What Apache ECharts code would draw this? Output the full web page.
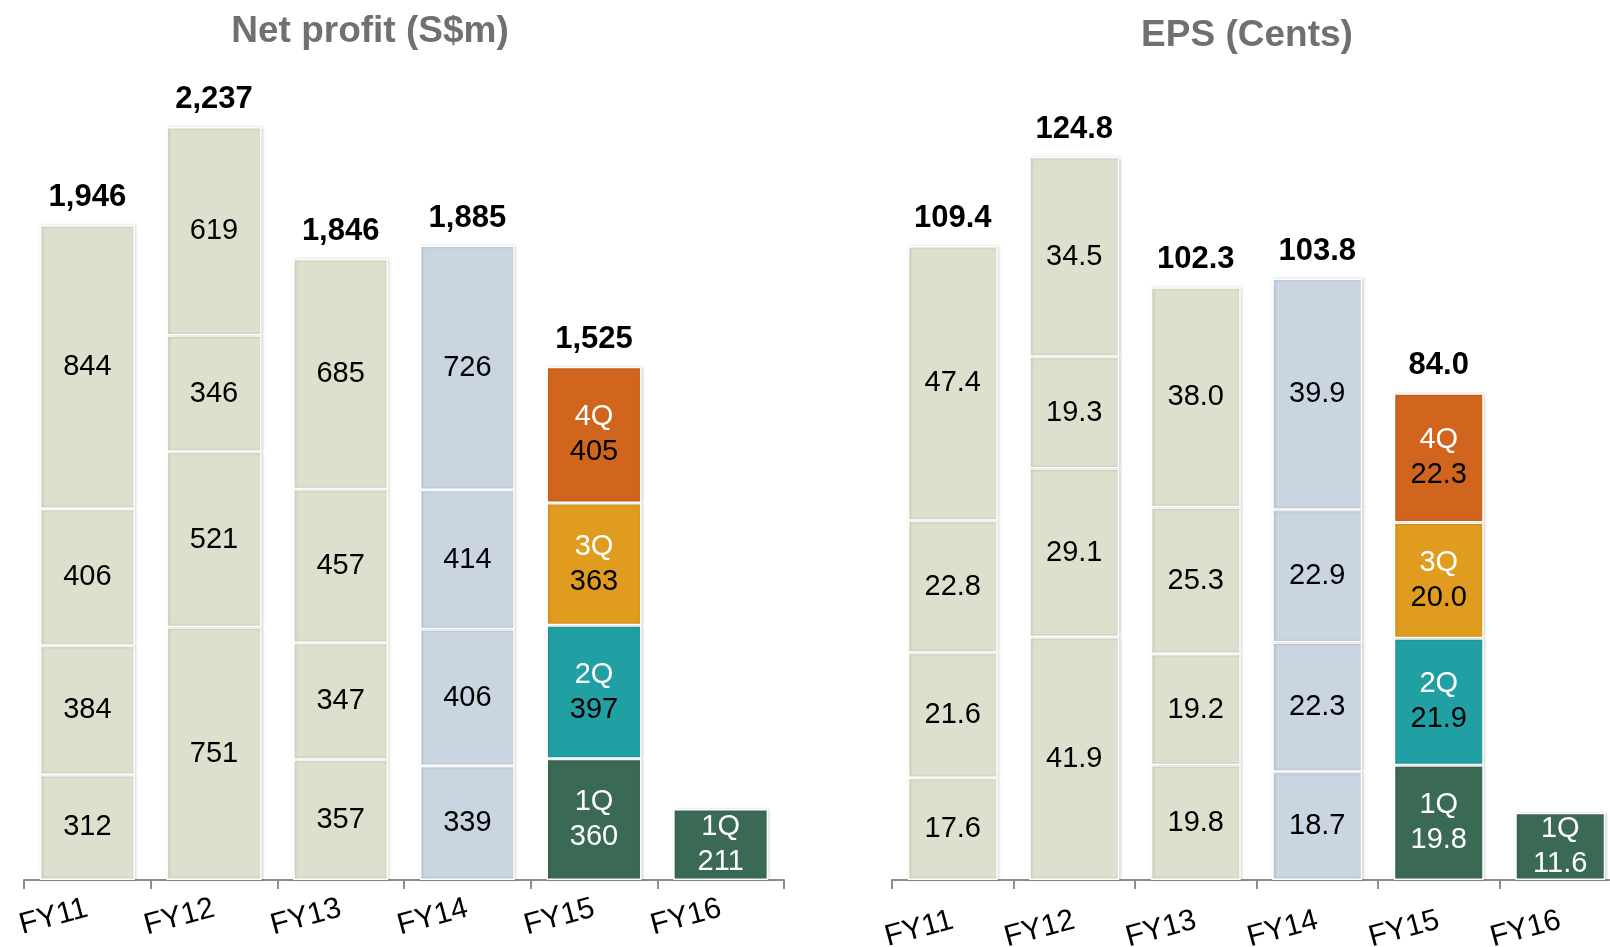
<!DOCTYPE html>
<html><head><meta charset="utf-8">
<script src="https://cdn.jsdelivr.net/npm/echarts@6/dist/echarts.min.js"></script>
<style>html,body{margin:0;padding:0;background:#fff}#c{width:1610px;height:947px}</style>
</head><body><div id="c"></div>
<script>
const years = ['FY11','FY12','FY13','FY14','FY15','FY16'];
// Net profit (S$m) segments, bottom to top
const np1 = [312, 751, 357, 339, 360, 211];
const np2 = [384, 521, 347, 406, 397, null];
const np3 = [406, 346, 457, 414, 363, null];
const np4 = [844, 619, 685, 726, 405, null];
const npTotal = [1946, 2237, 1846, 1885, 1525, null];
// EPS (Cents) segments, bottom to top
const eps1 = [17.6, 41.9, 19.8, 18.7, 19.8, 11.6];
const eps2 = [21.6, 29.1, 19.2, 22.3, 21.9, null];
const eps3 = [22.8, 19.3, 25.3, 22.9, 20.0, null];
const eps4 = [47.4, 34.5, 38.0, 39.9, 22.3, null];
const epsTotal = [109.4, 124.8, 102.3, 103.8, 84.0, null];
const quarterTags = ['1Q','2Q','3Q','4Q'];
const yearKind = ['old','old','old','blue','quarter','quarter'];

const C_OLD = '#dee0cd', C_BLUE = '#c9d5e1';
const Q_COLORS = ['#3b6a54', '#21a0a4', '#e09c1f', '#d2651e'];
const FONT = '"Liberation Sans", Arial, sans-serif';

function layerData(arr, layer, fmt) {
  return arr.map((v, j) => {
    if (v == null) return null;
    const kind = yearKind[j];
    const color = kind === 'old' ? C_OLD : kind === 'blue' ? C_BLUE : Q_COLORS[layer];
    const item = { value: v, itemStyle: { color } };
    if (kind === 'quarter') {
      const vs = layer === 0 ? 'w' : 'v';
      item.label = { formatter: '{q|' + quarterTags[layer] + '}\n{' + vs + '|' + fmt(v) + '}' };
    } else {
      item.label = { formatter: fmt(v) };
    }
    return item;
  });
}

function stackSeries(layers, totals, fmt, totFmt, idx, stack, bw) {
  const out = layers.map((arr, i) => ({
    type: 'bar', stack, xAxisIndex: idx, yAxisIndex: idx, barWidth: bw,
    data: layerData(arr, i, fmt),
    itemStyle: { borderColor: '#ffffff', borderWidth: 1.5, shadowColor: 'rgba(0,0,0,0.18)', shadowBlur: 3, shadowOffsetX: 1 },
    label: {
      show: true, position: 'inside', color: '#000', fontSize: 29, fontFamily: FONT,
      rich: {
        q: { color: '#fff', fontSize: 29, fontFamily: FONT, lineHeight: 35 },
        v: { color: '#000', fontSize: 29, fontFamily: FONT, lineHeight: 35 },
        w: { color: '#fff', fontSize: 29, fontFamily: FONT, lineHeight: 35 }
      }
    },
    emphasis: { disabled: true }
  }));
  out.push({
    type: 'bar', stack, xAxisIndex: idx, yAxisIndex: idx, barWidth: bw,
    data: totals.map(t => t == null ? null : 0),
    itemStyle: { color: 'transparent', borderWidth: 0 },
    label: {
      show: true, position: 'top', distance: 12, color: '#000', fontSize: 31, fontWeight: 'bold', fontFamily: FONT,
      formatter: p => totals[p.dataIndex] == null ? '' : totFmt(totals[p.dataIndex])
    },
    emphasis: { disabled: true }
  });
  return out;
}

const npFmt = v => String(v);
const npTot = v => v.toLocaleString('en-US');
const epsFmt = v => v.toFixed(1);

const axisCommon = (margin) => ({
  type: 'category', data: years,
  axisLine: { lineStyle: { color: '#8c8c8c', width: 2 } },
  axisTick: { show: true, length: 9, lineStyle: { color: '#8c8c8c', width: 2 } },
  axisLabel: { rotate: 15, fontSize: 30, color: '#000', fontFamily: FONT, margin }
});

const chart = echarts.init(document.getElementById('c'));
chart.setOption({
  animation: false,
  title: [
    { text: 'Net profit (S$m)', left: 365, top: 8, textAlign: 'center',
      textStyle: { color: '#707070', fontSize: 37, fontWeight: 'bold', fontFamily: FONT } },
    { text: 'EPS (Cents)', left: 1242, top: 12, textAlign: 'center',
      textStyle: { color: '#707070', fontSize: 37, fontWeight: 'bold', fontFamily: FONT } }
  ],
  grid: [
    { left: 24, width: 760, top: 38.5, height: 841.5, outerBoundsMode: 'none', containLabel: false },
    { left: 892, width: 729, top: 68.7, height: 811.3, outerBoundsMode: 'none', containLabel: false }
  ],
  xAxis: [
    Object.assign({ gridIndex: 0 }, axisCommon(28)),
    Object.assign({ gridIndex: 1 }, axisCommon(40))
  ],
  yAxis: [
    { gridIndex: 0, type: 'value', min: 0, max: 2500, show: false, splitLine: { show: false } },
    { gridIndex: 1, type: 'value', min: 0, max: 140, show: false, splitLine: { show: false } }
  ],
  series: [
    ...stackSeries([np1, np2, np3, np4], npTotal, npFmt, npTot, 0, 'np', 95),
    ...stackSeries([eps1, eps2, eps3, eps4], epsTotal, epsFmt, epsFmt, 1, 'eps', 90)
  ]
});
</script></body></html>
